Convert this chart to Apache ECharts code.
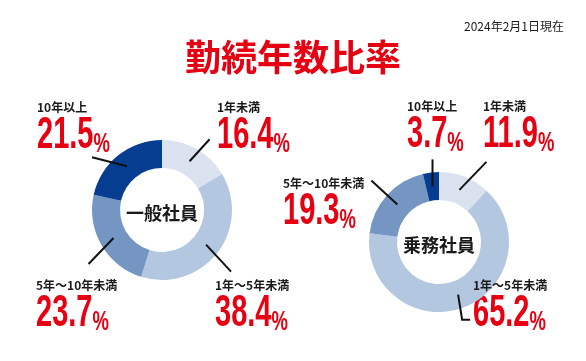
<!DOCTYPE html>
<html>
<head>
<meta charset="utf-8">
<script src="https://cdn.jsdelivr.net/npm/echarts@6/dist/echarts.min.js"></script>
<style>
html,body{margin:0;padding:0;background:#ffffff;}
#chart{width:586px;height:361px;}
</style>
</head>
<body>
<div id="chart"></div>
<script>
// ---- data ----
const categories = ['1年未満', '1年〜5年未満', '5年〜10年未満', '10年以上'];
const regularValues = [16.4, 38.4, 23.7, 21.5];   // 一般社員
const crewValues = [11.9, 65.2, 19.3, 3.7];       // 乗務社員
const groupNames = ['一般社員', '乗務社員'];
const titleText = '勤続年数比率';
const dateText = '2024年2月1日現在';

// ---- styles / layout ----
const RED = '#e60012';
const CJK = "'Noto Sans CJK JP', 'Noto Sans', sans-serif";
const NUMFONT = "'Liberation Sans', Arial, sans-serif";
const sliceColors = ['#dae2ef', '#b4c7e0', '#7595c3', '#063d91'];
const donutLayout = [
  {
    center: [162, 210],
    labelPos: [[217, 100], [215, 278], [36, 278], [37, 100]],
    lineVec: [[[20, -22]], [[25, 27]], [[-25, 26]], [[-35, -9]]]
  },
  {
    center: [439, 242],
    labelPos: [[483, 99], [473, 278], [283, 176], [407, 99]],
    lineVec: [[[27, -28]], [[4, 25], [12, 25]], [[-26, -24]], [[0, -27]]]
  }
];

const groups = [regularValues, crewValues];
const series = [];
const valueTexts = [];
groups.forEach(function (vals, gi) {
  const lay = donutLayout[gi];
  const data = categories.map(function (c, i) { return { name: c, value: vals[i] }; });
  series.push({
    type: 'pie',
    silent: true,
    z: 2,
    center: lay.center,
    radius: [42, 70],
    startAngle: 90,
    clockwise: true,
    label: { show: false },
    labelLine: { show: false },
    color: sliceColors,
    itemStyle: { borderWidth: 0 },
    data: data
  });
  series.push({
    type: 'pie',
    silent: true,
    z: 5,
    center: lay.center,
    radius: [0, 56],
    startAngle: 90,
    clockwise: true,
    avoidLabelOverlap: false,
    itemStyle: { color: 'rgba(0,0,0,0)', borderWidth: 0 },
    label: {
      show: true,
      position: 'outside',
      formatter: function (p) { return '{n|' + p.name + '}'; },
      rich: {
        n: { fontSize: 12, fontWeight: 'bold', fontFamily: CJK, color: '#1a1a1a', lineHeight: 14 }
      }
    },
    labelLine: { show: true, length: 20, length2: 0, smooth: false, lineStyle: { color: '#111111', width: 2 } },
    labelLayout: function (params) {
      const i = params.dataIndex;
      const start = params.labelLinePoints[0];
      const pts = [start];
      lay.lineVec[i].forEach(function (v) { pts.push([start[0] + v[0], start[1] + v[1]]); });
      return {
        x: lay.labelPos[i][0],
        y: lay.labelPos[i][1],
        align: 'left',
        verticalAlign: 'top',
        labelLinePoints: pts
      };
    },
    data: data
  });
  // condensed red percentage numbers under each category name
  vals.forEach(function (v, i) {
    valueTexts.push({
      type: 'text',
      silent: true,
      x: lay.labelPos[i][0],
      y: lay.labelPos[i][1] + 14,
      scaleX: 0.66,
      style: {
        text: '{v|' + v.toFixed(1) + '}{p|%}',
        align: 'left',
        verticalAlign: 'top',
        rich: {
          v: { fontSize: 44, fontWeight: 'bold', fontFamily: NUMFONT, fill: RED, lineHeight: 44 },
          p: { fontSize: 28, fontWeight: 'bold', fontFamily: NUMFONT, fill: RED, lineHeight: 32, verticalAlign: 'bottom' }
        }
      }
    });
  });
});

const chart = echarts.init(document.getElementById('chart'), null, { renderer: 'canvas' });
chart.setOption({
  animation: false,
  backgroundColor: '#ffffff',
  graphic: [
    { type: 'text', x: 293, y: 57, style: { text: titleText, align: 'center', verticalAlign: 'middle', fill: RED, fontSize: 36, fontWeight: 'bold', fontFamily: CJK } },
    { type: 'text', x: 564, y: 26, style: { text: dateText, align: 'right', verticalAlign: 'middle', fill: '#1a1a1a', fontSize: 12, fontFamily: CJK } },
    { type: 'text', x: donutLayout[0].center[0], y: donutLayout[0].center[1] + 3, style: { text: groupNames[0], align: 'center', verticalAlign: 'middle', fill: '#1a1a1a', fontSize: 18, fontWeight: 'bold', fontFamily: CJK } },
    { type: 'text', x: donutLayout[1].center[0], y: donutLayout[1].center[1] + 3, style: { text: groupNames[1], align: 'center', verticalAlign: 'middle', fill: '#1a1a1a', fontSize: 18, fontWeight: 'bold', fontFamily: CJK } }
  ].concat(valueTexts),
  series: series
});
</script>
</body>
</html>
